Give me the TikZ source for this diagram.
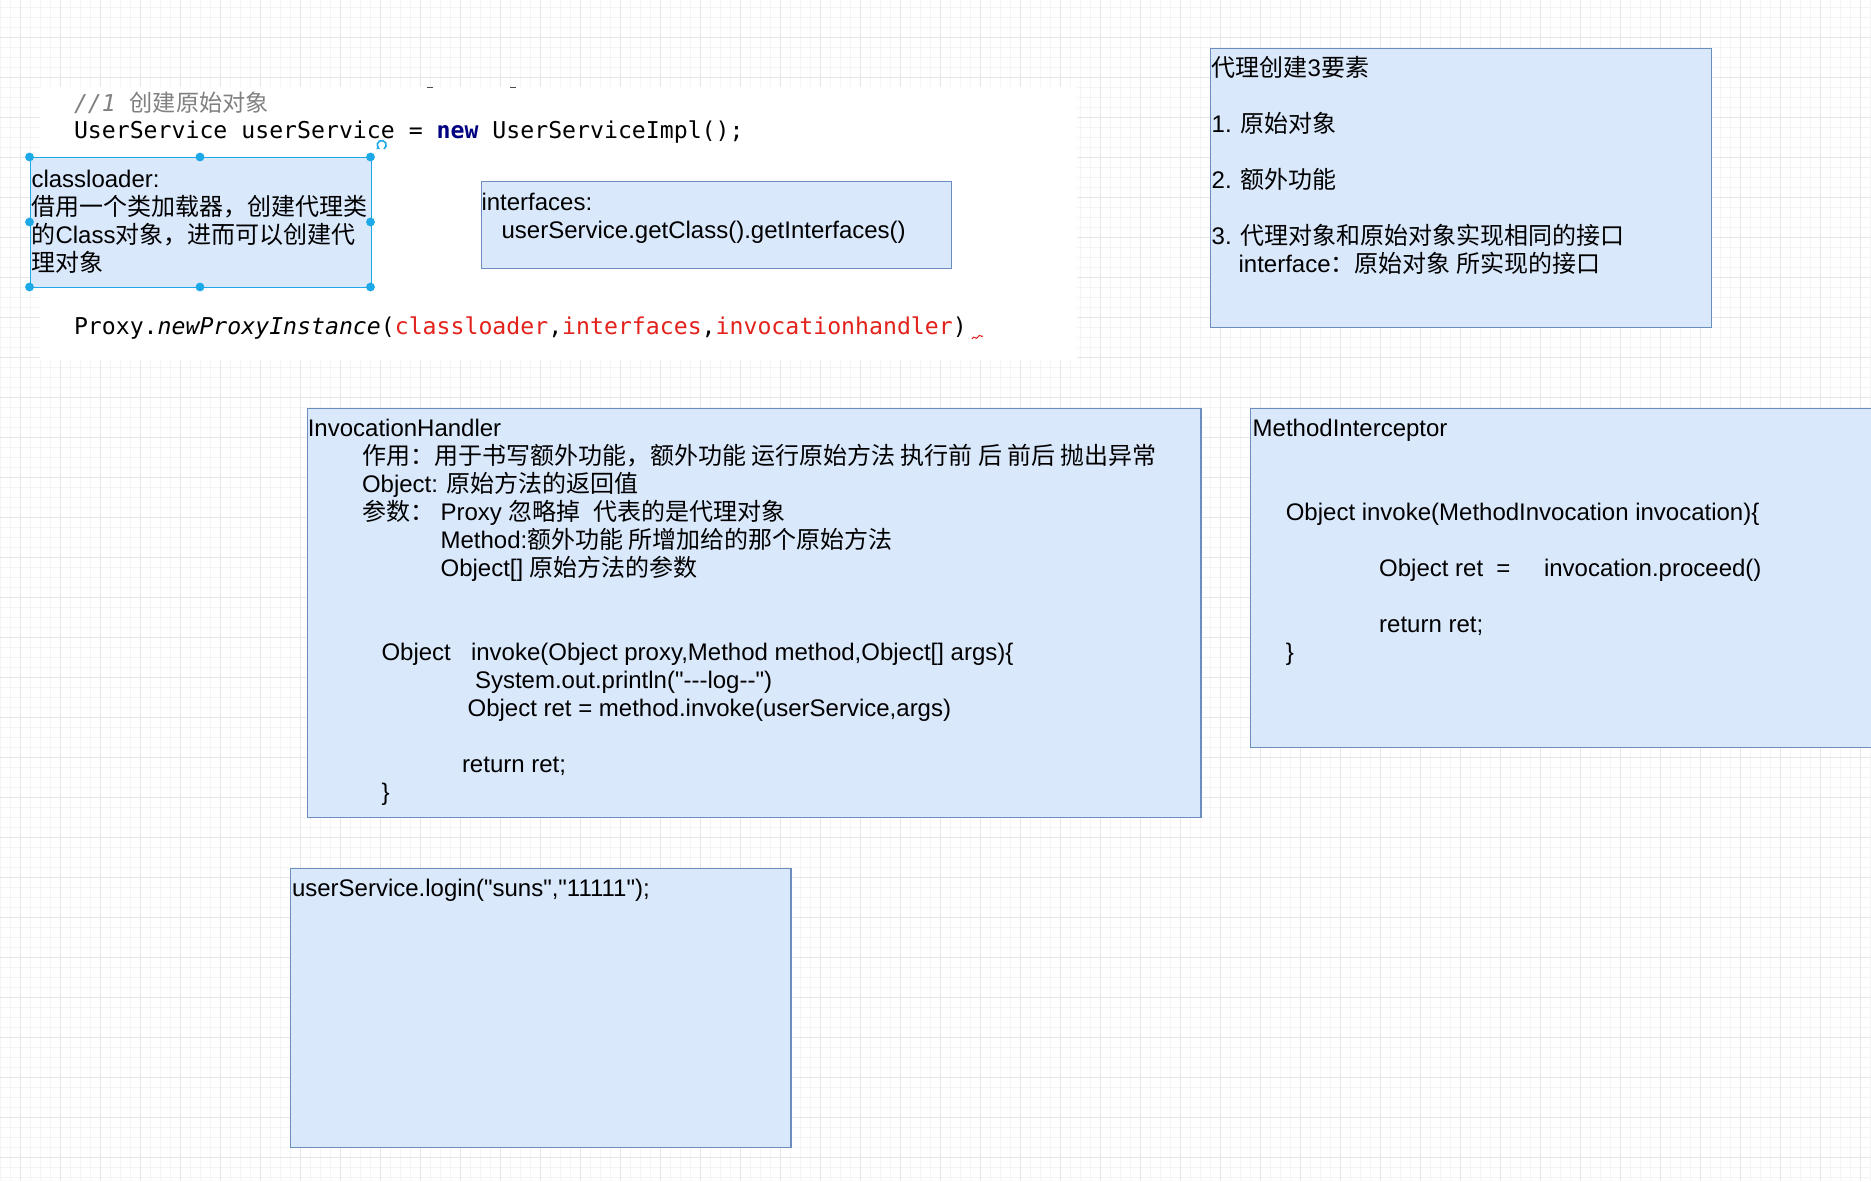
\documentclass[tikz,border=0pt]{standalone}
\usepackage{fontspec}
\usetikzlibrary{arrows.meta}
\newfontfamily\hv{Liberation Sans}
\newfontfamily\zh{Noto Sans CJK SC}
\newfontfamily\mono{DejaVu Sans Mono}
\newcommand\Z[1]{{\zh #1}}
\definecolor{boxfill}{HTML}{DAE8FC}
\definecolor{boxline}{HTML}{6C8EBF}
\definecolor{gridminor}{HTML}{F4F4F4}
\definecolor{gridmajor}{HTML}{E6E6E6}
\definecolor{selcol}{HTML}{1DA9E8}
\definecolor{codegray}{HTML}{808080}
\definecolor{codenavy}{HTML}{000080}
\definecolor{codered}{HTML}{E3221C}
\tikzset{
  box/.style={draw=boxline, fill=boxfill, line width=1.2pt, anchor=north west, inner sep=0, rectangle},
  txt/.style={anchor=base west, inner sep=0, outer sep=0, font=\hv\fontsize{24}{28}\selectfont},
  code/.style={anchor=base west, inner sep=0, outer sep=0, font=\mono\fontsize{23.17}{28}\selectfont},
  handle/.style={fill=selcol, draw=none},
}
\begin{document}
\begin{tikzpicture}[x=1pt, y=-1pt]
\useasboundingbox (0,0) rectangle (1871,1181);
\fill[white] (0,0) rectangle (1871,1181);
% grid
\foreach \i in {0,...,187} { \draw[gridminor, line width=1pt] (\i*10+0.3,0) -- (\i*10+0.3,1181); }
\foreach \i in {0,...,118} { \draw[gridminor, line width=1pt] (0,\i*10+7.3) -- (1871,\i*10+7.3); }
\foreach \i in {0,...,46} { \draw[gridmajor, line width=1pt] (\i*40+20.3,0) -- (\i*40+20.3,1181); }
\foreach \i in {0,...,29} { \draw[gridmajor, line width=1pt] (0,\i*40-2.7) -- (1871,\i*40-2.7); }
% white code area
\fill[white] (40,87) rectangle (1077,360);
\draw[black!70, line width=1.5pt] (427,87.5) -- (433,87.5);
\draw[black!70, line width=1.5pt] (510,87.5) -- (516,87.5);
% code lines
\node[code] (c1) at (74,111) {\color{codegray}{\itshape //1} \Z{创建原始对象}};
\node[code] (c2) at (74,138.5) {UserService userService = {\bfseries\color{codenavy}new} UserServiceImpl();};
\node[code] (c3) at (74,334) {Proxy.{\itshape newProxyInstance}({\color{codered}classloader},{\color{codered}interfaces},{\color{codered}invocationhandler})};
\draw[codered, line width=1pt] (972,339) .. controls (974,334) and (976,341) .. (978,337) .. controls (980,333) and (981,338) .. (983,336);
% classloader box (selected)
\node[box, draw=selcol, line width=1pt, minimum width=341pt, minimum height=130pt] (cl) at (29.5,157) {};
\node[txt] (cl1) at (31.5,187) {classloader:};
\node[txt] (cl2) at (31.5,215) {\Z{借用一个类加载器，创建代理类}};
\node[txt] (cl3) at (31.5,243) {\Z{的}Class\Z{对象，进而可以创建代}};
\node[txt] (cl4) at (31.5,271) {\Z{理对象}};
\foreach \p in {(29.5,157),(200,157),(370.5,157),(29.5,222),(370.5,222),(29.5,287),(200,287),(370.5,287)} { \fill[handle] \p circle (4.4); }
\draw[selcol, line width=1.6pt, -{Stealth[length=3pt,width=4pt]}] (381.7,145) ++(60:4.5) arc[start angle=60, end angle=-240, radius=4.5];
% interfaces box
\node[box, minimum width=470pt, minimum height=87pt] (itf) at (480.5,180.5) {};
\node[txt] (itf1) at (481.5,210) {interfaces:};
\node[txt] (itf2) at (501.6,238) {userService.getClass().getInterfaces()};
% three elements box
\node[box, minimum width=500.5pt, minimum height=279.5pt] (three) at (1210,47.5) {};
\node[txt] (th1) at (1211.7,76.3) {\Z{代理创建}3\Z{要素}};
\node[txt] (th2) at (1211.7,132.3) {1. \Z{原始对象}};
\node[txt] (th3) at (1211.7,188.3) {2. \Z{额外功能}};
\node[txt] (th4) at (1211.7,244.3) {3. \Z{代理对象和原始对象实现相同的接口}};
\node[txt] (th5) at (1238.6,272.3) {interface\Z{：原始对象 所实现的接口}};
% InvocationHandler box
\node[box, minimum width=893.8pt, minimum height=409.2pt] (ih) at (306.6,407.5) {};
\node[txt] (ih1) at (307.8,436.8) {InvocationHandler};
\node[txt] (ih2) at (362,464.8) {\Z{作用：用于书写额外功能，额外功能 运行原始方法 执行前 后 前后 抛出异常}};
\node[txt] (ih3) at (362,492.8) {Object: \Z{原始方法的返回值}};
\node[txt] (ih4a) at (362,520.8) {\Z{参数：}};
\node[txt] (ih4b) at (440.6,520.8) {Proxy \Z{忽略掉}\hspace{13.3pt}\Z{代表的是代理对象}};
\node[txt] (ih5) at (440.6,548.8) {Method:\Z{额外功能 所增加给的那个原始方法}};
\node[txt] (ih6) at (440.6,576.8) {Object[] \Z{原始方法的参数}};
\node[txt] (ih7a) at (381.5,660.8) {Object};
\node[txt] (ih7b) at (471,660.8) {invoke(Object proxy,Method method,Object[] args)\{};
\node[txt] (ih8) at (475,688.8) {System.out.println("---log--")};
\node[txt] (ih9) at (467.6,716.8) {Object ret = method.invoke(userService,args)};
\node[txt] (ih10) at (462,772.8) {return ret;};
\node[txt] (ih11) at (381.5,800.8) {\}};
% MethodInterceptor box
\node[box, minimum width=640pt, minimum height=339.5pt] (mi) at (1250,407.5) {};
\node[txt] (mi1) at (1252.7,436.3) {MethodInterceptor};
\node[txt] (mi2) at (1285.8,520.3) {Object invoke(MethodInvocation invocation)\{};
\node[txt] (mi3a) at (1379.2,576.3) {Object ret};
\node[txt] (mi3b) at (1496.4,576.3) {=};
\node[txt] (mi3c) at (1544,576.3) {invocation.proceed()};
\node[txt] (mi4) at (1379.2,632.3) {return ret;};
\node[txt] (mi5) at (1285.8,660.3) {\}};
% login box
\node[box, minimum width=500.4pt, minimum height=279.3pt] (lg) at (290,867.7) {};
\node[txt] (lg1) at (292,896.5) {userService.login("suns","11111");};
\end{tikzpicture}
\end{document}
